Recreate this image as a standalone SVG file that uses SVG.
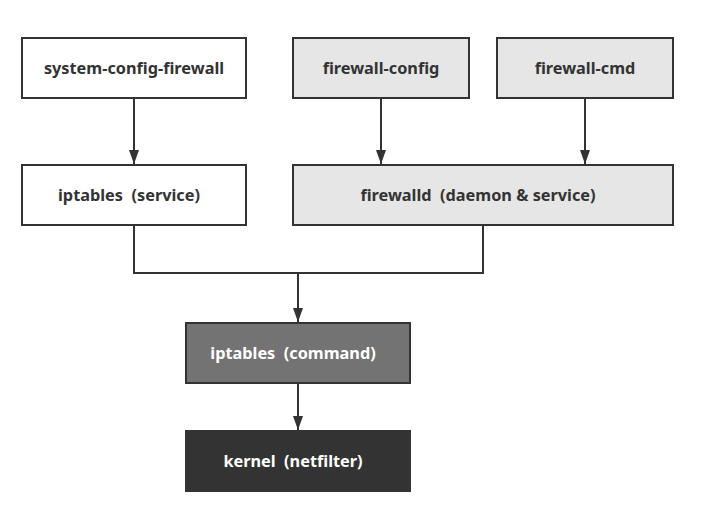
<svg xmlns="http://www.w3.org/2000/svg" width="713" height="525" viewBox="0 0 713 525">
<style>
.box{stroke:#333333;stroke-width:2}
.w{fill:#ffffff}
.g{fill:#e6e6e6}
.t{font-family:"Noto Sans","Liberation Sans",sans-serif;font-weight:bold;font-size:16.3px;fill:#333333;text-anchor:middle;dominant-baseline:central;white-space:pre}
.tw{fill:#ffffff}
.c{fill:none;stroke:#333333;stroke-width:2}
</style>
<defs>
<marker id="a" viewBox="0 0 14 10" refX="14" refY="5" markerWidth="14" markerHeight="10" markerUnits="userSpaceOnUse" orient="auto">
<path d="M0,0 L14,5 L0,10 Z" fill="#333333"/>
</marker>
</defs>
<rect width="713" height="525" fill="#ffffff"/>
<g id="connectors">
<path class="c" d="M134,98 V164" marker-end="url(#a)"/>
<path class="c" d="M381,98 V164" marker-end="url(#a)"/>
<path class="c" d="M585,98 V164" marker-end="url(#a)"/>
<path class="c" d="M134,225 V273 H483 V225"/>
<path class="c" d="M298,273 V322" marker-end="url(#a)"/>
<path class="c" d="M298,383 V430" marker-end="url(#a)"/>
</g>
<g id="system-config-firewall">
<rect class="box w" x="22" y="38" width="224" height="60"/>
<text class="t" x="134" y="68">system-config-firewall</text>
</g>
<g id="firewall-config">
<rect class="box g" x="293" y="38" width="176" height="60"/>
<text class="t" x="381" y="68">firewall-config</text>
</g>
<g id="firewall-cmd">
<rect class="box g" x="497" y="38" width="176" height="60"/>
<text class="t" x="585" y="68">firewall-cmd</text>
</g>
<g id="iptables-service">
<rect class="box w" x="22" y="165" width="224" height="60"/>
<text class="t" x="129" y="195" xml:space="preserve">iptables  (service)</text>
</g>
<g id="firewalld">
<rect class="box g" x="293" y="165" width="380" height="60"/>
<text class="t" x="478" y="195" xml:space="preserve">firewalld  (daemon &amp; service)</text>
</g>
<g id="iptables-command">
<rect class="box" fill="#737373" x="186" y="323" width="224" height="60"/>
<text class="t tw" x="293" y="353" xml:space="preserve">iptables  (command)</text>
</g>
<g id="kernel">
<rect fill="#333333" x="185" y="430" width="226" height="62"/>
<text class="t tw" x="293" y="461" xml:space="preserve">kernel  (netfilter)</text>
</g>
</svg>
